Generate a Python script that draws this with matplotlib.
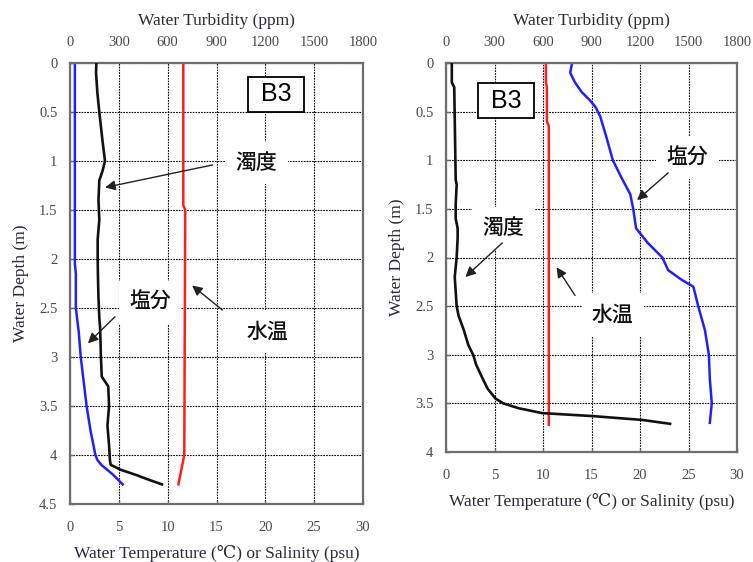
import matplotlib
matplotlib.use("Agg")
import matplotlib.pyplot as plt
import numpy as np

# ---------------- data: left panel ----------------
L_turb_depth = [0, 0.1, 0.3, 0.5, 0.8, 1.0, 1.1, 1.2, 1.4, 1.6, 1.8, 2.0, 2.2, 2.4, 2.6, 2.7,
                3.0, 3.2, 3.3, 3.5, 3.7, 3.9, 4.05, 4.1, 4.15, 4.2, 4.25, 4.3]
L_turb_ppm = [162, 160, 168, 180, 200, 215, 200, 180, 175, 180, 170, 170, 172, 175, 180, 185,
              190, 195, 235, 240, 230, 240, 245, 250, 310, 400, 480, 565]
L_sal_depth = [0, 2.05, 2.15, 2.5, 2.75, 3.0, 3.25, 3.5, 3.75, 4.0, 4.05, 4.1, 4.15, 4.2, 4.25, 4.3]
L_sal_psu = [0.5, 0.5, 0.6, 0.6, 0.9, 1.1, 1.4, 1.7, 2.1, 2.6, 2.8, 3.2, 3.8, 4.4, 4.9, 5.4]
L_temp_depth = [0, 1.45, 1.5, 4.0, 4.1, 4.2, 4.3]
L_temp_c = [11.6, 11.6, 11.8, 11.7, 11.5, 11.3, 11.1]

# ---------------- data: right panel ----------------
R_turb_depth = [0, 0.2, 0.25, 1.2, 1.25, 1.45, 1.6, 1.7, 1.8, 2.0, 2.2, 2.5, 2.6, 2.75, 2.9,
                3.0, 3.1, 3.25, 3.35, 3.45, 3.5, 3.55, 3.6, 3.63, 3.67, 3.71]
R_turb_ppm = [36, 36, 51, 60, 66, 60, 60, 72, 72, 66, 54, 66, 78, 111, 138,
              168, 186, 228, 258, 306, 354, 450, 594, 900, 1212, 1386]
R_sal_depth = [0, 0.1, 0.2, 0.3, 0.38, 0.45, 0.55, 0.75, 1.0, 1.2, 1.35, 1.5, 1.7, 1.85, 2.0,
               2.13, 2.23, 2.3, 2.5, 2.75, 3.0, 3.25, 3.5, 3.7]
R_sal_psu = [13.0, 12.8, 13.3, 14.0, 14.8, 15.4, 15.9, 16.5, 17.2, 18.2, 19.0, 19.3, 19.6, 20.8, 22.3,
             22.9, 24.3, 25.5, 26.0, 26.7, 27.1, 27.2, 27.4, 27.2]
R_temp_depth = [0, 0.2, 0.25, 0.6, 0.65, 3.72]
R_temp_c = [10.3, 10.3, 10.4, 10.4, 10.6, 10.6]

# tick labels
temp_ticks = [0, 5, 10, 15, 20, 25, 30]
turb_ticks = [0, 300, 600, 900, 1200, 1500, 1800]
L_depth_ticks = [0, 0.5, 1, 1.5, 2, 2.5, 3, 3.5, 4, 4.5]
R_depth_ticks = [0, 0.5, 1, 1.5, 2, 2.5, 3, 3.5, 4]

# labels
lbl_turb = "濁度"
lbl_sal = "塩分"
lbl_temp = "水温"
station = " B3 "

SERIF = ["Liberation Serif", "DejaVu Serif", "DejaVu Sans"]
CJK = ["Noto Sans CJK JP", "DejaVu Sans"]
TICKC = "#4a4a4a"
LABC = "#2a2a3a"
TICKFS = 10.5
LABFS = 12.5

fig = plt.figure(figsize=(7.53, 5.62), dpi=100)

def fmt(v):
    return ("%g" % v)

def panel(rect, dmax, dticks, turb_d, turb_v, sal_d, sal_v, tmp_d, tmp_v, ann):
    ax = fig.add_axes(rect)
    ax.set_xlim(0, 30)
    ax.set_ylim(dmax, 0)
    ax.set_xticks(temp_ticks)
    ax.set_xticklabels([fmt(t) for t in temp_ticks], family=SERIF, fontsize=TICKFS, color=TICKC)
    ax.set_yticks(dticks)
    ax.set_yticklabels([fmt(t) for t in dticks], family=SERIF, fontsize=TICKFS, color=TICKC)
    ax.tick_params(direction="in", length=3, color="#666666", width=1.0)
    ax.tick_params(axis="x", pad=12)
    ax.tick_params(axis="y", pad=9)
    ax.grid(True, color="black", linestyle=(0, (1.5, 1.0)), linewidth=0.8)
    for s in ax.spines.values():
        s.set_color("#6e6e6e")
        s.set_linewidth(1.6)
    ax.set_xlabel("Water Temperature (\u2103) or Salinity (psu)", family=SERIF, fontsize=LABFS,
                  color=LABC, labelpad=8)
    ax.set_ylabel("Water Depth (m)", family=SERIF, fontsize=LABFS, color=LABC, labelpad=7)

    ax.plot(sal_v, sal_d, color="#2020ff", lw=1.8)
    ax.plot(tmp_v, tmp_d, color="#ff1e1e", lw=1.8)

    ax2 = ax.twiny()
    ax2.set_xlim(0, 1800)
    ax2.set_xticks(turb_ticks)
    ax2.set_xticklabels([str(t) for t in turb_ticks], family=SERIF, fontsize=TICKFS, color=TICKC)
    ax2.tick_params(length=0, pad=10)
    for s in ax2.spines.values():
        s.set_visible(False)
    ax2.set_xlabel("Water Turbidity (ppm)", family=SERIF, fontsize=LABFS, color=LABC, labelpad=8)
    ax2.plot(turb_v, turb_d, color="#111111", lw=1.9)

    # annotations drawn on top
    bx, by = ann["B3"]
    ax2.text(bx, by, station, transform=ax.transData, ha="center", va="center",
             family=["Liberation Sans", "DejaVu Sans"], fontsize=18,
             bbox=dict(boxstyle="square,pad=0.22", fc="white", ec="black", lw=1.3), zorder=10)
    for key, txt in (("turb", lbl_turb), ("sal", lbl_sal), ("temp", lbl_temp)):
        (tx, ty), (sx, sy), (hx, hy) = ann[key]
        ax2.annotate("", xy=(hx, hy), xycoords=ax.transData, xytext=(sx, sy), textcoords=ax.transData,
                     arrowprops=dict(arrowstyle="-|>,head_length=0.6,head_width=0.3", color="#222222",
                                     lw=1.0, shrinkA=0, shrinkB=0), zorder=9)
        ax2.text(tx, ty, txt, transform=ax.transData, ha="center", va="center", family=CJK,
                 fontsize=15, color="#111111", weight="medium",
                 bbox=dict(boxstyle="square,pad=0.5", fc="white", ec="none"), zorder=8)
    return ax, ax2

annL = {
    "B3": (21.1, 0.32),
    "turb": ((19.1, 1.02), (14.6, 1.04), (3.6, 1.27)),
    "sal": ((8.2, 2.44), (4.6, 2.59), (1.84, 2.86)),
    "temp": ((20.2, 2.74), (15.6, 2.52), (12.5, 2.27)),
}
annR = {
    "B3": (6.2, 0.39),
    "turb": ((5.9, 1.70), (5.8, 1.85), (2.0, 2.2)),
    "sal": ((24.9, 0.97), (22.9, 1.13), (19.7, 1.41)),
    "temp": ((17.2, 2.59), (13.3, 2.39), (11.4, 2.10)),
}

panel([70/753, 1-504/562, 293/753, 441/562], 4.5, L_depth_ticks,
      L_turb_depth, L_turb_ppm, L_sal_depth, L_sal_psu, L_temp_depth, L_temp_c, annL)
panel([446/753, 1-452/562, 291/753, 389/562], 4.0, R_depth_ticks,
      R_turb_depth, R_turb_ppm, R_sal_depth, R_sal_psu, R_temp_depth, R_temp_c, annR)

fig.savefig("out.png", dpi=100)
